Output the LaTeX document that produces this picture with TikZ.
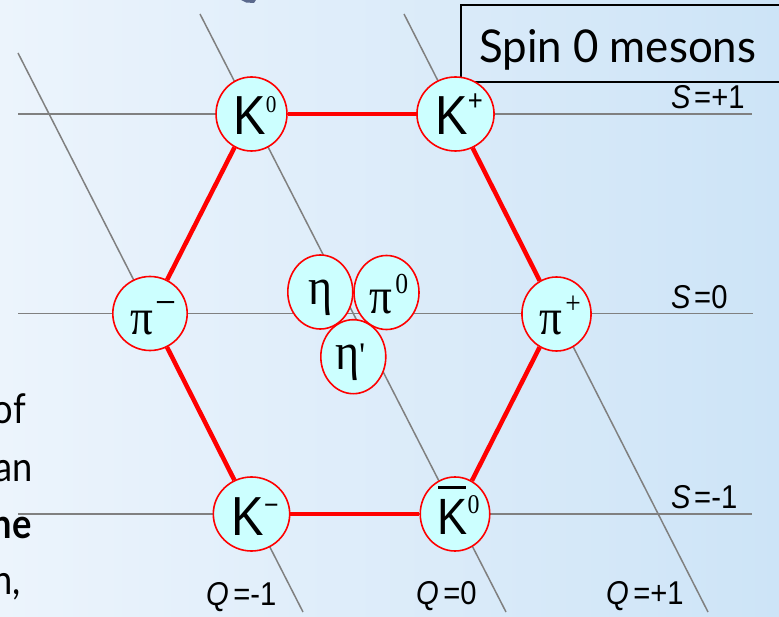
\documentclass[tikz,border=0pt]{standalone}
\usepackage{fontspec}
\usepackage{graphicx}
\usetikzlibrary{shapes.geometric}
\newfontfamily\lsans{Liberation Sans}
\newfontfamily\lserif{Liberation Serif}
\newfontfamily\lato{Lato}
\newcommand{\sqz}[1]{\scalebox{0.885}[1]{#1}}
\newcommand{\fsz}[1]{\fontsize{#1}{#1}\selectfont}
\definecolor{gridc}{RGB}{128,128,128}
\definecolor{nodefill}{RGB}{204,255,255}
\definecolor{hexred}{RGB}{255,0,0}
\definecolor{bgl}{RGB}{236,244,252}
\definecolor{bgr}{RGB}{205,228,247}
\definecolor{blob}{RGB}{90,105,140}
\tikzset{
  gridline/.style={draw=gridc, line width=1.5pt},
  hexedge/.style={draw=hexred, line width=4.5pt},
  meson/.style={ellipse, draw=hexred, line width=1.6pt, fill=nodefill,
    minimum width=65pt, minimum height=74pt, inner sep=0pt,
    text height=0pt, text depth=0pt},
  qslabel/.style={anchor=base west, inner sep=0pt, font=\lsans\fsz{33}},
  textfrag/.style={anchor=base east, inner sep=0pt, font=\lato\fsz{41}},
  titlebox/.style={draw=black, line width=1.5pt}
}
\begin{document}
\begin{tikzpicture}[x=1pt,y=-1pt]
\useasboundingbox (0,0) rectangle (779,617);
\clip (0,0) rectangle (779,617);
\shade[left color=bgl, right color=bgr] (0,0) rectangle (779,617);
\fill[blob] (241,0) -- (256,0) -- (254,3) -- (246,2.5) -- cycle;

% grid end points
\coordinate (s1a) at (18,114);   \coordinate (s1b) at (752,114);
\coordinate (s0a) at (18,313.5); \coordinate (s0b) at (753,313.5);
\coordinate (sma) at (18,514);   \coordinate (smb) at (752,514);
\coordinate (qma) at (18,53);    \coordinate (qmb) at (303,612);
\coordinate (q0a) at (200,14);   \coordinate (q0b) at (506,612);
\coordinate (qpa) at (404,14);   \coordinate (qpb) at (708,612);
\draw[gridline] (s1a) -- (s1b);
\draw[gridline] (s0a) -- (s0b);
\draw[gridline] (sma) -- (smb);
\draw[gridline] (qma) -- (qmb);
\draw[gridline] (q0a) -- (q0b);
\draw[gridline] (qpa) -- (qpb);

% title box
\draw[titlebox] (461,5) rectangle (800,82);
\node[anchor=base west, inner sep=0pt] (title) at (479,63)
  {\resizebox{277pt}{33pt}{\lato\fsz{46}Spin 0 mesons}};

% axis labels
\node[qslabel] (sp1) at (671,109) {\sqz{\textit{S}\hspace{4pt}=+1}};
\node[qslabel] (s0) at (671,308.3) {\sqz{\textit{S}\hspace{4pt}=0}};
\node[qslabel] (sm1) at (671,508.3) {\sqz{\textit{S}\hspace{4pt}=-1}};
\node[qslabel] (qm1) at (206,605) {\sqz{\textit{Q}\hspace{5pt}=-1}};
\node[qslabel] (q0) at (416,604) {\sqz{\textit{Q}\hspace{5pt}=0}};
\node[qslabel] (qp1) at (606,604) {\sqz{\textit{Q}\hspace{5pt}=+1}};

% mesons
\node[meson] (K0) at (251.5,114) {\raisebox{-21pt}{\sqz{\lsans\fsz{55}\hspace*{8pt}K\raisebox{22pt}{\lserif\fsz{24}0}}}};
\node[meson] (Kp) at (455.5,114) {\raisebox{-21pt}{\sqz{\lsans\fsz{55}\hspace*{8pt}K\raisebox{24pt}{\fsz{29}+}}}};
\node[meson] (pim) at (150,313.5) {\raisebox{-21.5pt}{\sqz{\lserif\fsz{51}\hspace*{8pt}π\kern2pt\raisebox{18pt}{\fsz{42}−}}}};
\node[meson] (pip) at (556.5,314) {\raisebox{-21pt}{\sqz{\lserif\fsz{51}\hspace*{8pt}π\kern4pt\raisebox{21pt}{\fsz{31}+}}}};
\node[meson] (Km) at (251.5,514) {\raisebox{-21pt}{\sqz{\lsans\fsz{55}\hspace*{8pt}K\raisebox{21pt}{\fsz{28}−}}}};
\node[meson] (K0b) at (455,514) {\raisebox{-20pt}{\sqz{\lsans\fsz{51}\hspace*{8pt}\rlap{\kern1pt\rule[45pt]{31pt}{3.5pt}}K\raisebox{21pt}{\lserif\fsz{27}0}}}};
\node[meson] (eta) at (320.3,292) {\raisebox{-13pt}{\sqz{\lserif\fsz{52}η}}};
\node[meson] (pi0) at (386.5,292.5) {\raisebox{-20.8pt}{\sqz{\lserif\fsz{51}\hspace*{5pt}π\kern4pt\raisebox{20pt}{\fsz{29}0}}}};
\node[meson] (etap) at (353.3,356.7) {\raisebox{-13.3pt}{\sqz{\lserif\fsz{52}η\raisebox{2pt}{\fsz{36}'}\hspace*{7pt}}}};

% hexagon
\draw[hexedge] (K0) -- (Kp);
\draw[hexedge] (Kp) -- (pip);
\draw[hexedge] (pip) -- (K0b);
\draw[hexedge] (K0b) -- (Km);
\draw[hexedge] (Km) -- (pim);
\draw[hexedge] (pim) -- (K0);

% clipped slide text on the left
\node[textfrag] (f1) at (26,423) {\sqz{of}};
\node[textfrag] (f2) at (33,481.5) {\sqz{an}};
\node[textfrag] (f3) at (32,538) {\sqz{\bfseries he}};
\node[textfrag] (f4) at (21,594) {\sqz{n,}};
\end{tikzpicture}
\end{document}
